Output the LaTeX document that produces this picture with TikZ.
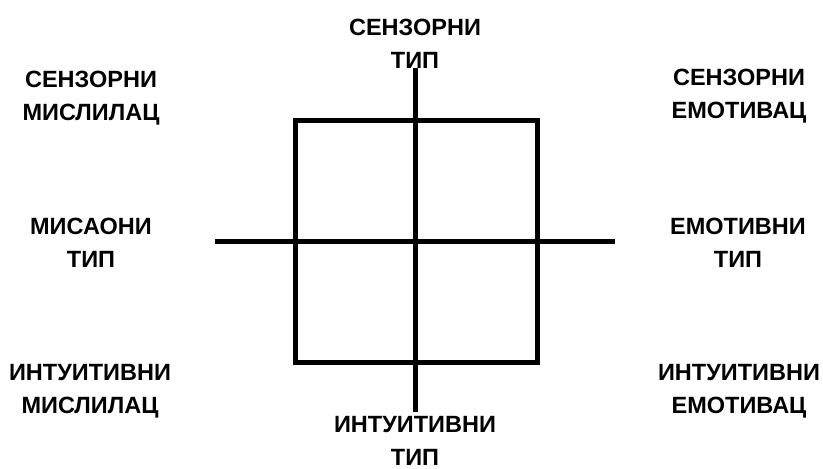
\documentclass[tikz,border=0pt]{standalone}
\usepackage{fontspec}
\setmainfont{Liberation Sans}
\usetikzlibrary{positioning}
\tikzstyle{label} = [align=center, inner sep=0pt, anchor=base,
font=\fontsize{23.5}{33}\selectfont\bfseries]
\tikzstyle{axis} = [line width=5pt, black]

\begin{document}
\begin{tikzpicture}[x=1pt, y=-1pt]
				
				% canvas
				\useasboundingbox (0,0) rectangle (823,469);
				
				% Labels (anchored at the baseline of the second line)
				\node[label] (top) at (415,68) {СЕНЗОРНИ \\ ТИП};
				\node[label] (bottom) at (415,465) {ИНТУИТИВНИ \\ ТИП};
				\node[label] (sensthink) at (91,120) {СЕНЗОРНИ \\ МИСЛИЛАЦ};
				\node[label] (sensfeel) at (739,118) {СЕНЗОРНИ \\ ЕМОТИВАЦ};
				\node[label] (think) at (91,267) {МИСАОНИ \\ ТИП};
				\node[label] (feel) at (738,267) {ЕМОТИВНИ \\ ТИП};
				\node[label] (intthink) at (90,413) {ИНТУИТИВНИ \\ МИСЛИЛАЦ};
				\node[label] (intfeel) at (739,413) {ИНТУИТИВНИ \\ ЕМОТИВАЦ};
				
				% Axes
				\coordinate (n) at (415,68);
				\coordinate (s) at (415,412);
				\coordinate (w) at (215,241);
				\coordinate (e) at (615,241);
				\draw[axis] (n) -- (s);
				\draw[axis] (w) -- (e);
				\draw[axis] (295,120) rectangle (537,362);
				
			\end{tikzpicture}
\end{document}
